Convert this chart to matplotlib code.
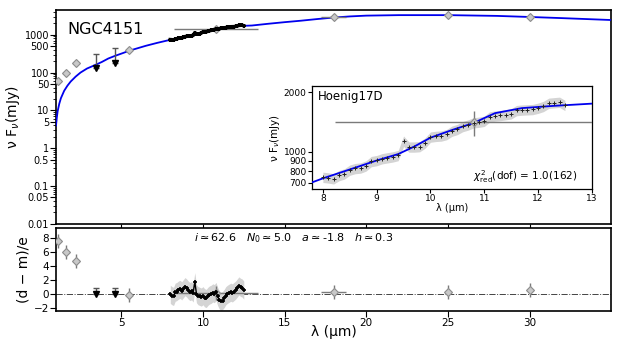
import matplotlib
matplotlib.use("Agg")
import matplotlib.pyplot as plt
from matplotlib.ticker import FixedLocator, FuncFormatter, LogLocator, NullFormatter, NullLocator

# photometry (grey diamonds)
phot_wl = [1.1, 1.62, 2.23, 5.5, 10.8, 18.0, 25.0, 30.0]
phot_flux = [60, 98, 174, 390, 1410, 3000, 3300, 2900]
phot_ferr = [5, 8, 14, 65, 200, 250, 280, 250]
phot_wlerr = [0.15, 0.0, 0.0, 0.0, 2.57, 0.75, 0.0, 0.0]
phot_resid = [7.7, 6.0, 4.8, -0.1, 0.2, 0.3, 0.3, 0.6]

# upper limits
ulim_wl = [3.45, 4.63]
ulim_flux = [134, 178]
ulim_top = [316, 445]
ulim_resid = [0.0, 0.0]
ulim_resid_top = [0.9, 0.85]

# N-band spectrum
spec_wl = [8.0, 8.1, 8.2, 8.3, 8.4, 8.5, 8.6, 8.7, 8.8, 8.9, 9.0, 9.1, 9.2, 9.3,
           9.4, 9.5, 9.6, 9.7, 9.8, 9.9, 10.0, 10.1, 10.2, 10.3, 10.4, 10.5, 10.6,
           10.7, 10.8, 10.9, 11.0, 11.1, 11.2, 11.3, 11.4, 11.5, 11.6, 11.7, 11.8,
           11.9, 12.0, 12.1, 12.2, 12.3, 12.4, 12.5]
spec_flux = [745, 740, 732, 760, 775, 810, 825, 830, 850, 895, 905, 925, 935, 945,
             960, 1135, 1060, 1060, 1065, 1110, 1190, 1200, 1205, 1225, 1275, 1300,
             1345, 1370, 1405, 1415, 1430, 1505, 1520, 1530, 1545, 1560, 1620, 1630,
             1635, 1640, 1665, 1700, 1765, 1775, 1785, 1720]
spec_resid = [0.0, -0.2, -0.3, 0.3, 0.4, 0.6, 0.7, 0.5, 0.8, 1.1, 0.9, 0.6, 0.4, 0.5,
              0.2, 1.8, 0.1, -0.2, -0.3, -0.4, -0.2, -0.5, -0.6, -0.3, -0.1, 0.0,
              0.2, 0.1, 0.4, -0.3, -0.8, -1.0, -0.9, -0.6, -0.2, 0.0, 0.15, 0.3,
              0.2, 0.4, 0.6, 0.9, 1.2, 1.0, 0.9, 0.6]
spec_rel_err = 0.06
resid_band = 1.3

# model SED
model_wl = [1.0, 1.05, 1.1, 1.2, 1.3, 1.5, 1.7, 1.9, 2.2, 2.5, 2.9, 3.35, 3.8, 4.2,
            4.6, 5.1, 5.5, 6.5, 7.2, 8.0, 8.5, 9.0, 9.4, 9.7, 10.0, 10.4, 10.8, 11.2,
            11.7, 12.3, 13.0, 14.0, 15.0, 16.0, 17.0, 18.0, 19.0, 20.0, 22.0, 25.0,
            28.0, 30.0, 32.0, 35.0]
model_flux = [4.0, 6.5, 9.5, 15, 21, 33, 45, 58, 78, 100, 128, 155, 190, 235,
              275, 328, 380, 510, 610, 735, 815, 905, 975, 1065, 1180, 1290, 1400, 1570,
              1665, 1710, 1754, 1950, 2150, 2350, 2600, 2850, 3050, 3200, 3300, 3300,
              3150, 2950, 2750, 2450]

dia = dict(fmt="D", ms=4.5, mfc="#c8c8c8", mec="#8c8c8c", mew=0.8,
           ecolor="#7a7a7a", elinewidth=1.0, capsize=0, zorder=4)
ulim = dict(fmt="v", ms=4.5, color="k", ecolor="#555555", elinewidth=1.0,
            capsize=2, capthick=1.0, zorder=4)

fig = plt.figure(figsize=(6.23, 3.46), dpi=100)
ax = fig.add_axes([0.0899, 0.353, 0.8911, 0.618])
axr = fig.add_axes([0.0899, 0.101, 0.8911, 0.240])
axi = fig.add_axes([0.501, 0.454, 0.449, 0.297])

# ---------- main panel
ax.plot(model_wl, model_flux, color="#0000ee", lw=1.3, zorder=3)
ax.errorbar(phot_wl, phot_flux, yerr=phot_ferr, xerr=phot_wlerr, **dia)
ax.errorbar(ulim_wl, ulim_flux,
            yerr=[[0, 0], [t - f for t, f in zip(ulim_top, ulim_flux)]], **ulim)
ax.plot(spec_wl, spec_flux, "+", color="k", ms=3, mew=1.5, zorder=5)
ax.plot(spec_wl, spec_flux, "-", color="k", lw=2.5, zorder=5)
ax.set_yscale("log")
ax.set_xlim(1, 35)
ax.set_ylim(0.01, 4500)
ax.yaxis.set_major_locator(FixedLocator([0.01, 0.05, 0.1, 0.5, 1, 5, 10, 50, 100, 500, 1000]))
ax.yaxis.set_major_formatter(FuncFormatter(lambda v, p: "%g" % v))
ax.yaxis.set_minor_locator(LogLocator(base=10, subs=range(2, 10), numticks=20))
ax.yaxis.set_minor_formatter(NullFormatter())
ax.set_xticks([5, 10, 15, 20, 25, 30])
ax.tick_params(axis="x", labelbottom=False, length=4)
ax.tick_params(axis="y", labelsize=7, length=4, pad=1)
ax.tick_params(which="minor", length=2)
ax.set_ylabel("ν F$_\\nu$(mJy)", fontsize=10, labelpad=2)
ax.text(0.021, 0.91, "NGC4151", transform=ax.transAxes, fontsize=11.5, va="center")
for s in ax.spines.values():
    s.set_linewidth(1.2)

# ---------- inset
lo = [f * (1 - spec_rel_err) for f in spec_flux]
hi = [f * (1 + spec_rel_err) for f in spec_flux]
axi.fill_between(spec_wl, lo, hi, color="#d4d4d4", lw=0, zorder=1)
axi.plot(model_wl, model_flux, color="#0000ee", lw=1.3, zorder=3)
axi.errorbar(phot_wl, phot_flux, yerr=phot_ferr, xerr=phot_wlerr, **dia)
axi.plot(spec_wl, spec_flux, "+", color="#222222", ms=3, mew=0.7, zorder=5)
axi.set_yscale("log")
axi.set_xlim(7.8, 13)
axi.set_ylim(650, 2150)
axi.yaxis.set_major_locator(FixedLocator([700, 800, 900, 1000, 2000]))
axi.yaxis.set_major_formatter(FuncFormatter(lambda v, p: "%d" % v))
axi.yaxis.set_minor_locator(NullLocator())
axi.set_xticks([8, 9, 10, 11, 12, 13])
axi.tick_params(labelsize=6.5, length=3, pad=1)
axi.set_xlabel("λ (µm)", fontsize=7, labelpad=0)
axi.set_ylabel("ν F$_\\nu$(mJy)", fontsize=7.5, labelpad=1)
axi.text(0.02, 0.90, "Hoenig17D", transform=axi.transAxes, fontsize=8.5, va="center")
axi.text(0.95, 0.12, r"$\chi^2_{\rm red}$(dof) = 1.0(162)", transform=axi.transAxes,
         fontsize=7.5, ha="right", va="center")
for s in axi.spines.values():
    s.set_linewidth(0.9)

# ---------- residuals
axr.axhline(0, color="#444444", lw=0.7, ls="-.", zorder=1)
axr.fill_between(spec_wl, [r - resid_band for r in spec_resid],
                 [r + resid_band for r in spec_resid], color="#d4d4d4", lw=0, zorder=1)
axr.plot(spec_wl, spec_resid, "+", color="k", ms=3, mew=1.2, zorder=5)
axr.plot(spec_wl, spec_resid, "-", color="k", lw=1.0, zorder=5)
axr.errorbar(phot_wl, phot_resid, yerr=1.0, xerr=phot_wlerr, **dia)
axr.errorbar(ulim_wl, ulim_resid,
             yerr=[[0, 0], [t - r for t, r in zip(ulim_resid_top, ulim_resid)]], **ulim)
axr.set_xlim(1, 35)
axr.set_ylim(-2.4, 9.5)
axr.set_yticks([-2, 0, 2, 4, 6, 8])
axr.set_xticks([5, 10, 15, 20, 25, 30])
axr.tick_params(labelsize=7.5, length=4, pad=1)
axr.set_xlabel("λ (µm)", fontsize=10, labelpad=-2)
axr.set_ylabel("(d − m)/e", fontsize=10, labelpad=2)
axr.text(0.249, 0.88, r"$i\simeq$62.6   $N_0\simeq$5.0   $a\simeq$-1.8   $h\simeq$0.3",
         transform=axr.transAxes, fontsize=8, va="center")
for s in axr.spines.values():
    s.set_linewidth(1.2)

fig.savefig("out.png", dpi=100)
